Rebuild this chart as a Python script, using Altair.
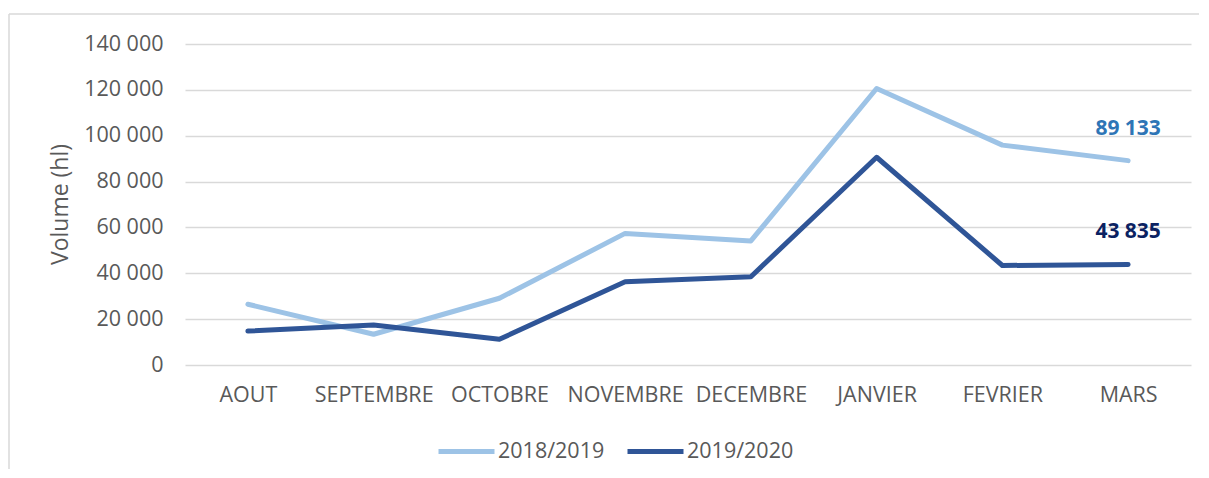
import altair as alt
import pandas as pd

months = ["AOUT", "SEPTEMBRE", "OCTOBRE", "NOVEMBRE", "DECEMBRE", "JANVIER", "FEVRIER", "MARS"]
s2018_2019 = [26500, 13400, 29100, 57400, 54100, 120600, 95900, 89133]
s2019_2020 = [14800, 17400, 11200, 36300, 38500, 90600, 43400, 43835]
series_names = ["2018/2019", "2019/2020"]
line_colors = ["#9DC3E6", "#2F5597"]
label_colors = ["#2E75B6", "#0B2262"]
y_ticks = [0, 20000, 40000, 60000, 80000, 100000, 120000, 140000]

rows = []
for name, vals, lc in zip(series_names, [s2018_2019, s2019_2020], label_colors):
    for m, v in zip(months, vals):
        rows.append({"mois": m, "serie": name, "volume": v,
                     "txt": f"{v:,}".replace(",", " "), "lcol": lc})
df = pd.DataFrame(rows)

FONT = "Open Sans"
GREY = "#595959"
FS = 21.5

x_enc = alt.X("mois:N", sort=months, title=None,
              scale=alt.Scale(type="point", padding=0.5),
              axis=alt.Axis(domain=False, ticks=False, labelPadding=19,
                            labelFontSize=FS, labelColor=GREY, labelFont=FONT,
                            labelAngle=0, grid=False))
y_enc = alt.Y("volume:Q", title="Volume (hl)",
              scale=alt.Scale(domain=[0, 140000], nice=False),
              axis=alt.Axis(values=y_ticks, domain=False, ticks=False,
                            labelPadding=22, labelFontSize=FS, labelColor=GREY,
                            labelFont=FONT,
                            labelExpr="replace(format(datum.value, ','), /,/g, ' ')",
                            grid=True, gridColor="#D9D9D9", gridWidth=1.5,
                            titleFontSize=23, titleFont=FONT, titleColor=GREY,
                            titleFontWeight="normal", titleX=-125, titleY=160,
                            titleAlign="center", titleBaseline="middle"))

lines = alt.Chart(df).mark_line(strokeWidth=5, strokeCap="round", strokeJoin="round").encode(
    x=x_enc, y=y_enc,
    color=alt.Color("serie:N", scale=alt.Scale(domain=series_names, range=line_colors),
                    legend=alt.Legend(title=None, orient="none", direction="horizontal",
                                      legendX=251, legendY=377,
                                      symbolType="stroke", symbolSize=3136,
                                      symbolStrokeWidth=5, labelFontSize=FS,
                                      labelFont=FONT, labelColor=GREY,
                                      labelOffset=1, columnPadding=12)),
)

labels = alt.Chart(df).transform_filter(alt.datum.mois == "MARS").mark_text(
    dy=-32, fontSize=21, fontWeight="bold", font=FONT
).encode(x=x_enc, y=y_enc, text="txt:N", color=alt.Color("lcol:N", scale=None, legend=None))

frame_df = pd.DataFrame({"k": [0]})
frame_top = alt.Chart(frame_df).mark_rule(color="#D9D9D9", strokeWidth=1.5).encode(
    x=alt.value(-176), x2=alt.value(1100), y=alt.value(-30))
frame_left = alt.Chart(frame_df).mark_rule(color="#D9D9D9", strokeWidth=1.5).encode(
    x=alt.value(-176), y=alt.value(-30), y2=alt.value(500))

chart = alt.layer(frame_top, frame_left, lines, labels).properties(
    width=1006, height=321,
    autosize=alt.AutoSizeParams(type="none"),
    padding={"left": 177, "top": 36, "right": 8, "bottom": 104},
).configure(background="white").configure_view(stroke=None)

chart.save("out.html", embed_options={"renderer": "svg", "actions": False})
